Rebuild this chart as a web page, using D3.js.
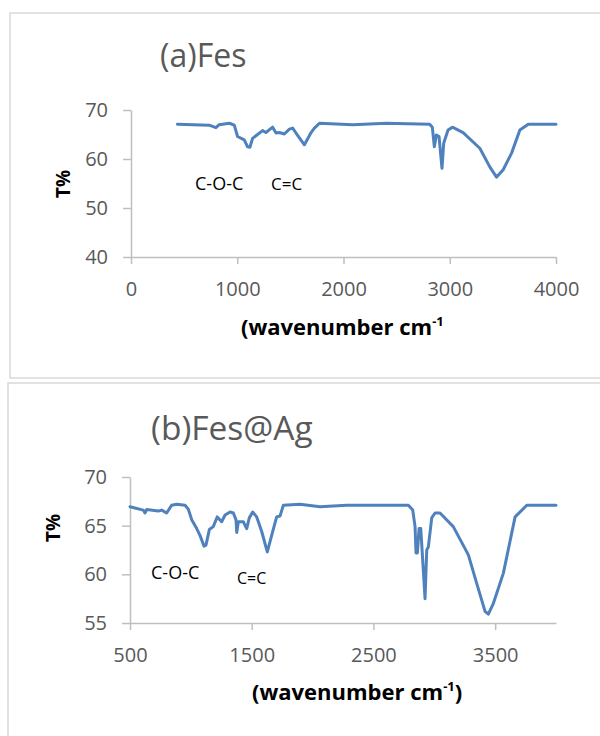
<!DOCTYPE html>
<html>
<head>
<meta charset="utf-8">
<script src="https://cdn.jsdelivr.net/npm/d3@7"></script>
<style>
  html, body { margin: 0; padding: 0; background: #fff; }
  svg { display: block; font-family: "Open Sans", "Noto Sans", sans-serif; }
</style>
</head>
<body>
<svg id="chart" width="600" height="736"></svg>
<script>
// ---- Data ----
const waveA = [437,736,799,830,925,972,1003,1066,1097,1119,1144,1238,1270,1333,1365,1396,1443,1491,1522,1553,1632,1695,1726,1774,2088,2403,2811,2836,2855,2874,2899,2927,2943,2984,3025,3126,3283,3377,3440,3503,3582,3660,3739,4000];
const transA = [67.1,66.9,66.4,67.0,67.3,66.9,64.6,63.9,62.5,62.4,64.2,65.8,65.4,66.5,65.3,65.4,65.1,66.1,66.3,65.3,62.9,65.4,66.3,67.3,67.0,67.3,67.1,66.5,62.5,64.9,64.6,58.1,63.2,65.9,66.5,65.4,62.2,58.4,56.3,57.8,61.2,65.9,67.1,67.1];

const waveB = [500,609,623,637,733,760,801,842,884,952,979,1007,1048,1075,1108,1124,1152,1184,1217,1253,1281,1322,1349,1371,1377,1390,1431,1459,1480,1508,1541,1582,1628,1664,1705,1733,1760,1897,2061,2281,2787,2823,2842,2850,2861,2875,2889,2910,2924,2938,2951,2979,3006,3047,3156,3280,3348,3417,3444,3485,3567,3664,3760,4000];
const transB = [66.95,66.6,66.3,66.65,66.5,66.6,66.3,67.1,67.2,67.1,66.7,65.6,64.7,64.0,62.9,63.0,64.6,64.9,65.9,65.4,66.1,66.4,66.3,65.6,64.3,65.4,65.4,64.7,65.8,66.4,65.9,64.4,62.3,64.0,65.9,66.0,67.1,67.2,66.95,67.1,67.1,66.6,64.9,62.2,62.2,64.7,64.7,60.4,57.5,62.5,62.8,65.8,66.3,66.3,64.9,62.0,59.1,56.2,55.9,57.0,60.1,65.9,67.1,67.1];

const xTicksA = [0,1000,2000,3000,4000];
const yTicksA = [40,50,60,70];
const xTicksB = [500,1500,2500,3500];
const yTicksB = [55,60,65,70];

const titles = ["(a)Fes", "(b)Fes@Ag"];
const yLabel = "T%";
const xLabelMain = "(wavenumber cm";
const xLabelSup = "-1";
const annotations = ["C-O-C", "C=C"];

// ---- Drawing ----
const svg = d3.select("#chart");
const lineColor = "#4F81BD";
const axisColor = "#BFBFBF";
const textGray = "#595959";

function panel(cfg) {
  const g = svg.append("g");
  g.append("rect")
    .attr("x", cfg.box[0]).attr("y", cfg.box[1])
    .attr("width", cfg.box[2]).attr("height", cfg.box[3])
    .attr("fill", "none").attr("stroke", "#D9D9D9").attr("stroke-width", 1.5);

  const x = d3.scaleLinear().domain(cfg.xDomain).range([cfg.x0, cfg.x1]);
  const y = d3.scaleLinear().domain(cfg.yDomain).range([cfg.y0, cfg.y1]);

  g.append("text").attr("x", cfg.titlePos[0]).attr("y", cfg.titlePos[1])
    .attr("font-size", cfg.titleSize).attr("fill", textGray).text(cfg.title);

  const xAxis = d3.axisBottom(x).tickValues(cfg.xTicks).tickSizeInner(7).tickSizeOuter(0).tickPadding(18).tickFormat(d3.format("d"));
  const yAxis = d3.axisLeft(y).tickValues(cfg.yTicks).tickSizeInner(8).tickSizeOuter(0).tickPadding(15).tickFormat(d3.format("d"));

  const gx = g.append("g").attr("transform", `translate(0,${cfg.y0})`).call(xAxis);
  const gy = g.append("g").attr("transform", `translate(${cfg.x0},0)`).call(yAxis);
  [gx, gy].forEach(a => {
    a.select(".domain").attr("stroke", axisColor).attr("stroke-width", 1.5);
    a.selectAll(".tick line").attr("stroke", axisColor).attr("stroke-width", 1.5);
    a.selectAll(".tick text").attr("fill", textGray).attr("font-size", 20)
      .attr("font-family", "'Open Sans', sans-serif");
  });

  const data = cfg.wave.map((w, i) => [w, cfg.trans[i]]);
  g.append("path").datum(data)
    .attr("fill", "none").attr("stroke", lineColor).attr("stroke-width", 3)
    .attr("stroke-linejoin", "round").attr("stroke-linecap", "round")
    .attr("d", d3.line().x(d => x(d[0])).y(d => y(d[1])));

  g.append("text")
    .attr("transform", `translate(${cfg.yLabelPos[0]},${cfg.yLabelPos[1]}) rotate(-90)`)
    .attr("text-anchor", "middle").attr("dominant-baseline", "central")
    .attr("font-size", 19).attr("font-weight", "bold").attr("fill", "#000")
    .text(yLabel);

  const xl = g.append("text").attr("x", cfg.xLabelPos[0]).attr("y", cfg.xLabelPos[1])
    .attr("font-size", 22).attr("font-weight", "bold").attr("fill", "#000");
  xl.append("tspan").text(xLabelMain);
  xl.append("tspan").attr("font-size", 13).attr("dy", -9).text(xLabelSup);
  if (cfg.closeParen) xl.append("tspan").attr("dy", 9).text(")");

  cfg.annot.forEach(a => {
    g.append("text").attr("x", a.x).attr("y", a.y).attr("font-size", a.size)
      .attr("fill", "#000").text(a.t);
  });
}

panel({
  box: [10, 13, 600, 365],
  xDomain: [0, 4000], yDomain: [40, 70],
  x0: 131, x1: 556, y0: 257, y1: 110,
  xTicks: xTicksA, yTicks: yTicksA,
  wave: waveA, trans: transA,
  title: titles[0], titlePos: [160, 67], titleSize: 32,
  yLabelPos: [63, 184],
  xLabelPos: [241, 335], closeParen: false,
  annot: [{t: annotations[0], x: 195, y: 190, size: 18}, {t: annotations[1], x: 271, y: 190, size: 17}]
});

panel({
  box: [8, 383, 602, 380],
  xDomain: [500, 4000], yDomain: [55, 70],
  x0: 130, x1: 556, y0: 623, y1: 477,
  xTicks: xTicksB, yTicks: yTicksB,
  wave: waveB, trans: transB,
  title: titles[1], titlePos: [151, 440], titleSize: 33.5,
  yLabelPos: [53, 528],
  xLabelPos: [252, 700], closeParen: true,
  annot: [{t: annotations[0], x: 151, y: 579, size: 18}, {t: annotations[1], x: 237, y: 584, size: 16}]
});
</script>
</body>
</html>
